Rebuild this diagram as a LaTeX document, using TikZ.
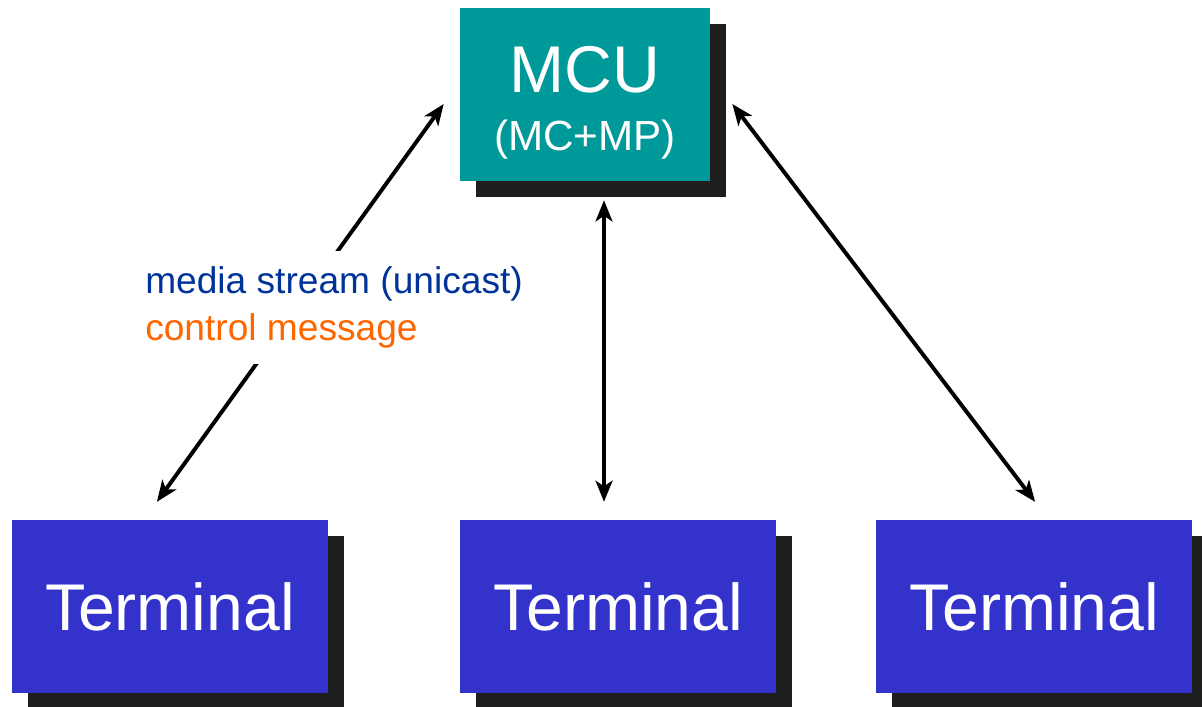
\documentclass[tikz,border=0pt]{standalone}
\usepackage{fontspec}
\setmainfont{Liberation Sans}
\usepackage{tikz}
\usetikzlibrary{shadows, arrows.meta}
\definecolor{mcuteal}{RGB}{0,153,153}
\definecolor{termblue}{RGB}{51,51,204}
\definecolor{shadowgray}{RGB}{30,30,30}
\definecolor{mediablue}{RGB}{0,51,153}
\definecolor{ctrlorange}{RGB}{255,102,0}
\tikzstyle{boxshadow} = [drop shadow={shadow xshift=0.4cm, shadow yshift=-0.4cm, opacity=1, fill=shadowgray}]
\tikzstyle{mcu} = [rectangle, fill=mcuteal, text=white, minimum width=6.25cm, minimum height=4.325cm, inner sep=0pt, align=center, font=\fontsize{30}{41}\selectfont, boxshadow]
\tikzstyle{terminal} = [rectangle, fill=termblue, text=white, minimum width=7.9cm, minimum height=4.325cm, inner sep=0pt, font=\fontsize{47}{50}\selectfont, boxshadow]
\tikzstyle{legend} = [rectangle, fill=white, inner xsep=0pt, inner ysep=0pt, minimum height=2.8cm, align=left, font=\fontsize{26.4}{33.4}\selectfont]
\tikzstyle{arrow} = [{Stealth[length=15pt,width=12pt,inset=4pt]}-{Stealth[length=15pt,width=12pt,inset=4pt]}, line width=2.8pt]

\begin{document}
\begin{tikzpicture}[x=0.025cm, y=-0.025cm]
    \useasboundingbox (0,0) rectangle (1202,706);

        % nodes
        \node (mcu) [mcu] at (585,94.5) {\rule{0pt}{45pt}\fontsize{47}{41}\selectfont MCU\\\fontsize{30}{41}\selectfont (MC+MP)};
        \node (term2) [terminal, below of=mcu, node distance=12.8cm, xshift=0.825cm] {Terminal};
        \node (term1) [terminal, left of=term2, node distance=11.2cm] {Terminal};
        \node (term3) [terminal, right of=term2, node distance=10.4cm] {Terminal};

        % edges
        \draw [arrow] ([xshift=-0.325cm, yshift=0.45cm]term1.north) -- ([xshift=-0.4cm, yshift=-0.2375cm]mcu.west);
        \draw [arrow] ([xshift=0.475cm, yshift=-0.475cm]mcu.south) -- ([xshift=-0.35cm, yshift=0.45cm]term2.north);
        \draw [arrow] ([xshift=0.55cm, yshift=-0.2375cm]mcu.east) -- ([xshift=0.025cm, yshift=0.45cm]term3.north);

        % label over the left edge
        \node (key) [legend, anchor=west] at (145,307.5) {\textcolor{mediablue}{media stream (unicast)}\\\textcolor{ctrlorange}{control message}};

    \end{tikzpicture}
\end{document}
